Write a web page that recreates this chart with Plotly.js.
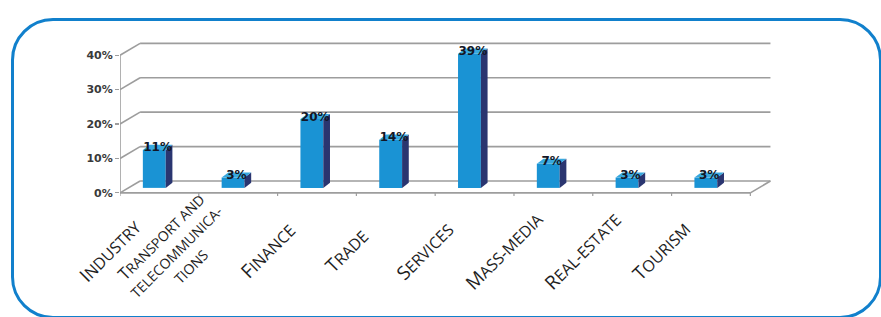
<!DOCTYPE html>
<html>
<head>
<meta charset="utf-8">
<script src="https://cdn.plot.ly/plotly-3.0.1.min.js"></script>
<style>
  html, body { margin: 0; padding: 0; width: 881px; height: 317px; overflow: hidden; background: #ffffff; }
  #frame { position: absolute; left: 11px; top: 18px; width: 871px; height: 301px; box-sizing: border-box;
           border: 3px solid #1180cc; border-radius: 42px; }
  #chart { position: absolute; left: 0; top: 0; width: 881px; height: 317px; }
</style>
</head>
<body>
<div id="frame"></div>
<div id="chart"></div>
<script>
// ---- data ----
const categories = ['Industry', 'Transport and<br>telecommunica-<br>tions', 'Finance', 'Trade',
                    'Services', 'Mass-media', 'Real-estate', 'Tourism'];
const values = [11, 3, 20, 14, 39, 7, 3, 3];
const yTicks = [0, 10, 20, 30, 40];

// ---- pseudo-3D geometry (style) ----
const wallDX = 0.255, wallDY = 3.45;     // back wall offset
const barW = 0.29, barShift = -0.065;    // front face width / shift
const barBase = 1.45;                    // bars stand mid-depth on the floor
const barDX = 0.085, barDY = 1.5;        // bar depth
const gridColor = '#9d9d9d';
const frontColor = '#1a93d4', sideColor = '#2a3570', topColor = '#38a8de';
// label styling (per category): small-cap size, base size (line spacing) and horizontal offset
const labelSize = [16, 14, 16, 16, 16, 16, 16, 16];
const labelBase = [16, 16, 16, 16, 16, 16, 16, 16];
const labelDX = [-0.63, -0.8, -0.63, -0.63, -0.63, -0.63, -0.63, -0.63];

const n = categories.length;
const x0 = -0.5, x1 = n - 0.5;
const xRange = [x0, x1 + 0.3], yRange = [-1.2, 45];
const idx = categories.map((_, i) => i);

// gridlines / walls as shapes drawn below the bars
const shapes = [];
function seg(xa, ya, xb, yb, w) {
  shapes.push({type: 'line', xref: 'x', yref: 'y', x0: xa, y0: ya, x1: xb, y1: yb,
               layer: 'below', line: {color: gridColor, width: w || 1.6}});
}
yTicks.forEach(t => {
  seg(x0 + wallDX, t + wallDY, x1 + wallDX, t + wallDY);
  seg(x0, t, x0 + wallDX, t + wallDY);
});
seg(x0, 0, x1, 0);
seg(x1, 0, x1 + wallDX, wallDY);
seg(x0, 0, x0, yTicks[yTicks.length - 1]);
for (let b = 0; b <= n; b++) seg(x0 + b, 0, x0 + b, -0.9, 1.2);

const traces = [];
// front faces
traces.push({type: 'bar', x: idx.map(i => i + barShift), y: values, base: barBase, width: barW,
             marker: {color: frontColor, line: {width: 0}}, hoverinfo: 'skip', showlegend: false});
// side and top faces
values.forEach((v, i) => {
  const xl = i + barShift - barW / 2, xr = i + barShift + barW / 2;
  const yb = barBase, yt = barBase + v;
  traces.push({type: 'scatter', mode: 'lines', fill: 'toself', fillcolor: sideColor,
               line: {width: 0, color: sideColor}, hoverinfo: 'skip', showlegend: false,
               x: [xr, xr + barDX, xr + barDX, xr, xr], y: [yb, yb + barDY, yt + barDY, yt, yb]});
  traces.push({type: 'scatter', mode: 'lines', fill: 'toself', fillcolor: topColor,
               line: {width: 0, color: topColor}, hoverinfo: 'skip', showlegend: false,
               x: [xl, xl + barDX, xr + barDX, xr, xl], y: [yt, yt + barDY, yt + barDY, yt, yt]});
});
// value labels
traces.push({type: 'scatter', mode: 'text', x: idx.map(i => i + barShift + barDX / 2),
             y: values.map(v => barBase + v + barDY / 2 - 0.3), text: values.map(v => v + '%'),
             textposition: 'middle center', cliponaxis: false, hoverinfo: 'skip', showlegend: false,
             textfont: {family: 'DejaVu Sans', size: 12, color: '#121626', weight: 'bold'}});

// small-caps rendering: capitals larger, lower-case letters as smaller capitals
function smallCaps(text, s) {
  const big = Math.round(s * 1.2);
  return text.split('<br>').map(lineTxt => {
    let out = '', run = '', runBig = null;
    const flush = () => {
      if (run) out += '<span style="font-size:' + (runBig ? big : s) + 'px">' + run + '</span>';
      run = '';
    };
    for (const ch of lineTxt) {
      const isBig = ch !== ch.toLowerCase();
      if (runBig !== null && isBig !== runBig) flush();
      runBig = isBig;
      run += ch.toUpperCase();
    }
    flush();
    return out;
  }).join('<br>');
}

// rotated category labels (centred below each category)
const px = v => (v - xRange[0]) / (xRange[1] - xRange[0]);
const py = v => (v - yRange[0]) / (yRange[1] - yRange[0]);
const annotations = categories.map((c, i) => ({
  x: px(i + labelDX[i]), y: py(-16.8), xref: 'paper', yref: 'paper',
  text: smallCaps(c, labelSize[i]), showarrow: false,
  textangle: -45, xanchor: 'center', yanchor: 'middle', align: 'center',
  font: {family: 'Open Sans', size: labelBase[i], color: '#1e1e1e'}
}));

const layout = {
  width: 881, height: 317,
  margin: {l: 120, r: 107, t: 38, b: 120, pad: 0},
  paper_bgcolor: 'rgba(0,0,0,0)', plot_bgcolor: 'rgba(0,0,0,0)',
  showlegend: false,
  xaxis: {range: xRange, showgrid: false, zeroline: false, showline: false,
          showticklabels: false, ticks: '', fixedrange: true},
  yaxis: {range: yRange, showgrid: false, zeroline: false, showline: false,
          tickmode: 'array', tickvals: yTicks, ticktext: yTicks.map(t => t + '%'),
          ticks: 'outside', ticklen: 4, tickcolor: gridColor, tickwidth: 1.2,
          tickfont: {family: 'DejaVu Sans', size: 11, color: '#3a3a3a', weight: 'bold'},
          fixedrange: true},
  shapes: shapes,
  annotations: annotations
};

Plotly.newPlot('chart', traces, layout, {displayModeBar: false, staticPlot: true});
</script>
</body>
</html>
